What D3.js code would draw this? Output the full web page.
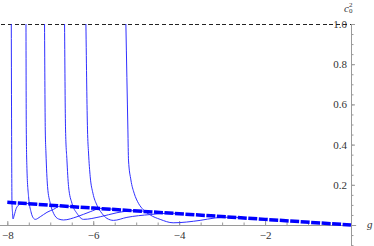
<!DOCTYPE html>
<html>
<head>
<meta charset="utf-8">
<script src="https://cdn.jsdelivr.net/npm/d3@7"></script>
<style>
  body { margin: 0; background: #fff; }
  svg { display: block; }
</style>
</head>
<body>
<div id="chart"></div>
<script>
// c0^2 against g: branches with poles, thick dashed asymptote

const xTicks = [-8, -6, -4, -2];
const yTicks = [0.2, 0.4, 0.6, 0.8, 1.0];

// thick dashed asymptote
const asymptoteG = [-8, -6, -4, -2, 0];
const asymptoteC = [0.113, 0.084, 0.056, 0.028, 0];

// horizontal reference line at c0^2 = 1
const refG = [-8.3, 0];
const refC = [1, 1];

// branches as [g, c0^2]
const branch1 = [[-7.907, 1.0], [-7.900, 0.473], [-7.891, 0.108], [-7.877, 0.058], [-7.867, 0.030],
  [-7.837, 0.050], [-7.791, 0.083], [-7.737, 0.099], [-7.658, 0.108], [-7.3, 0.104]];
const branch2 = [[-7.565, 1.0], [-7.558, 0.473], [-7.542, 0.274], [-7.505, 0.141], [-7.449, 0.066],
  [-7.388, 0.033], [-7.349, 0.028], [-7.233, 0.041], [-7.077, 0.063], [-6.923, 0.078],
  [-6.767, 0.094], [-6.4, 0.091]];
const branch3 = [[-7.133, 1.0], [-7.116, 0.473], [-7.100, 0.358], [-7.063, 0.191], [-7.000, 0.108],
  [-6.923, 0.058], [-6.807, 0.030], [-6.691, 0.025], [-6.379, 0.041], [-6.070, 0.066],
  [-5.837, 0.082], [-5.5, 0.078]];
const branch4 = [[-6.667, 1.0], [-6.644, 0.473], [-6.612, 0.323], [-6.574, 0.191], [-6.495, 0.108],
  [-6.379, 0.058], [-6.226, 0.028], [-5.837, 0.041], [-5.449, 0.061], [-5.070, 0.071],
  [-4.700, 0.067]];
const branch5 = [[-6.170, 1.0], [-6.133, 0.473], [-6.109, 0.358], [-6.070, 0.240], [-6.007, 0.158],
  [-5.914, 0.099], [-5.798, 0.058], [-5.681, 0.033], [-5.528, 0.023], [-5.216, 0.038],
  [-4.674, 0.052], [-4.210, 0.059], [-3.9, 0.055]];
const branch6 = [[-5.240, 1.0], [-5.193, 0.473], [-5.179, 0.323], [-5.123, 0.224], [-5.047, 0.158],
  [-4.947, 0.108], [-4.830, 0.075], [-4.674, 0.050], [-4.442, 0.028], [-4.140, 0.011],
  [-3.512, 0.023], [-3.163, 0.035], [-2.814, 0.039], [-2.5, 0.035]];
const branches = [branch1, branch2, branch3, branch4, branch5, branch6];

const width = 374;
const height = 246;

const svg = d3.select("#chart")
  .append("svg")
  .attr("width", width)
  .attr("height", height);

const x = d3.scaleLinear().domain([-8, 0]).range([7.3, 351]);
const y = d3.scaleLinear().domain([0, 1]).range([225, 24]);

svg.append("clipPath").attr("id", "plot")
  .append("rect")
  .attr("x", 0).attr("y", y(1) - 1)
  .attr("width", width).attr("height", height);

const axisColor = "#9a9a9a";
const textColor = "#333";
const font = "'Liberation Serif', 'DejaVu Serif', serif";

// axes
const xAxisG = svg.append("g").attr("transform", `translate(0,${y(0)})`);
xAxisG.call(d3.axisBottom(x).tickValues(d3.range(-8, 0.01, 0.5)).tickSizeInner(-2.5).tickSizeOuter(0).tickFormat(""));
xAxisG.call(g => g.select(".domain").remove());
const xMajor = svg.append("g").attr("transform", `translate(0,${y(0)})`)
  .call(d3.axisBottom(x).tickValues(xTicks).tickSizeInner(-4).tickSizeOuter(0).tickPadding(6));
xMajor.select(".domain").remove();
svg.append("line")
  .attr("x1", 0).attr("x2", x(0.12))
  .attr("y1", y(0) + 0.5).attr("y2", y(0) + 0.5)
  .attr("stroke", axisColor);

const yMinor = svg.append("g").attr("transform", `translate(${x(0)},0)`)
  .call(d3.axisLeft(y).tickValues(d3.range(-0.1, 1.001, 0.05)).tickSizeInner(-2.5).tickSizeOuter(0).tickFormat(""));
yMinor.select(".domain").remove();
const yMajor = svg.append("g").attr("transform", `translate(${x(0)},0)`)
  .call(d3.axisLeft(y).tickValues(yTicks).tickSizeInner(-4).tickSizeOuter(0).tickPadding(4).tickFormat(d3.format(".1f")));
yMajor.select(".domain").remove();
svg.append("line")
  .attr("x1", x(0) + 0.5).attr("x2", x(0) + 0.5)
  .attr("y1", y(1)).attr("y2", height)
  .attr("stroke", axisColor);

svg.selectAll(".tick line").attr("stroke", axisColor);
svg.selectAll(".tick text")
  .attr("fill", textColor)
  .attr("font-family", font)
  .style("font-family", font)
  .style("font-size", "11px");

// axis labels
svg.append("text")
  .attr("x", 367).attr("y", 228)
  .style("font-family", font).style("font-style", "italic").style("font-size", "11px")
  .attr("fill", textColor)
  .text("g");
const cLab = svg.append("text")
  .style("font-family", font).style("font-size", "11px")
  .attr("fill", textColor);
cLab.append("tspan").attr("x", 344).attr("y", 12).style("font-style", "italic").text("c");
cLab.append("tspan").attr("x", 349).attr("y", 6.5).style("font-size", "7px").text("2");
svg.append("text")
  .attr("x", 349).attr("y", 13)
  .style("font-family", font).style("font-size", "7px")
  .attr("fill", textColor)
  .text("0");

const plot = svg.append("g").attr("clip-path", "url(#plot)");

// dashed line at 1
plot.append("path")
  .datum(d3.zip(refG, refC))
  .attr("d", d3.line().x(d => x(d[0])).y(d => y(d[1]) + 0.5))
  .attr("fill", "none")
  .attr("stroke", "#222")
  .attr("stroke-width", 1)
  .attr("shape-rendering", "crispEdges")
  .attr("stroke-dasharray", "4,2.7");

const branchLine = d3.line()
  .x(d => x(d[0]))
  .y(d => y(d[1]))
  .curve(d3.curveMonotoneX);

plot.selectAll(".branch")
  .data(branches)
  .join("path")
  .attr("class", "branch")
  .attr("d", branchLine)
  .attr("fill", "none")
  .attr("stroke", "#2f2fff")
  .attr("stroke-width", 1);

plot.append("path")
  .datum(d3.zip(asymptoteG, asymptoteC))
  .attr("d", d3.line().x(d => x(d[0])).y(d => y(d[1])))
  .attr("fill", "none")
  .attr("stroke", "#0000ff")
  .attr("stroke-width", 3.5)
  .attr("stroke-dasharray", "9,1.5");
</script>
</body>
</html>
